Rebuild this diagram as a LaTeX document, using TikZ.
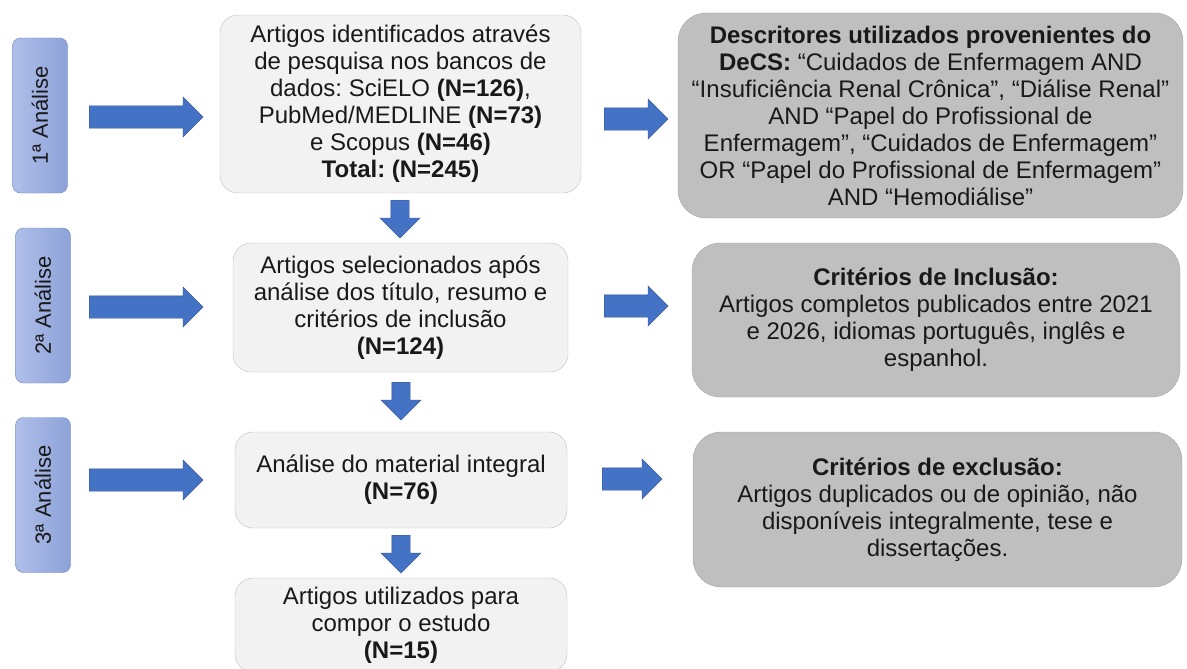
\documentclass[tikz,border=0pt]{standalone}
\usepackage{fontspec}
\setmainfont{Liberation Sans}
\usepackage{graphicx}
\usepackage{tikz}
\usetikzlibrary{shapes.arrows}
\frenchspacing
\definecolor{flowblue}{RGB}{68,114,196}
\definecolor{flowedge}{RGB}{47,82,143}
\definecolor{stagelight}{RGB}{176,191,233}
\definecolor{stagedark}{RGB}{141,162,217}
\definecolor{stageedge}{RGB}{110,134,198}
\definecolor{steplight}{RGB}{242,242,242}
\definecolor{stepedge}{RGB}{191,191,191}
\definecolor{notegray}{RGB}{191,191,191}
\definecolor{noteedge}{RGB}{166,166,166}

\begin{document}
\begin{tikzpicture}[x=1pt, y=-1pt,
    stage/.style={draw=stageedge, rounded corners=8pt, left color=stagelight, right color=stagedark, minimum width=55pt, minimum height=155pt, inner sep=0pt, text=black!90, font=\fontsize{22}{26}\selectfont},
    stepbox/.style={draw=stepedge, fill=steplight, rounded corners=18pt, align=center, inner sep=0pt, text=black!90, font=\fontsize{24}{27}\selectfont},
    notebox/.style={draw=noteedge, fill=notegray, rounded corners=28pt, align=center, inner sep=0pt, text=black!90, font=\fontsize{24}{27}\selectfont},
    rarrow/.style={single arrow, draw=flowedge, fill=flowblue, inner xsep=0pt, inner ysep=11pt, minimum width=0pt, single arrow head extend=9pt, anchor=tail},
    darrow/.style={rarrow, rotate=-90, inner ysep=9pt, single arrow head extend=11pt, minimum height=38pt}
]
\useasboundingbox (0,0) rectangle (1187,669);
\clip (0,0) rectangle (1187,669);

% Stage labels
\node[stage] (stage1) at (40,115.5) {\rotatebox{90}{1ª Análise}};
\node[stage] (stage2) at (43,305.5) {\rotatebox{90}{2ª Análise}};
\node[stage] (stage3) at (43,495) {\rotatebox{90}{3ª Análise}};

% Main steps
\node[stepbox, minimum width=361pt, minimum height=178pt] (step1) at (400.5,104) {Artigos identificados através\\de pesquisa nos bancos de\\dados: SciELO \textbf{(N=126)},\\PubMed/MEDLINE \textbf{(N=73)}\\e Scopus \textbf{(N=46)}\\\textbf{Total: (N=245)}};
\node[stepbox, minimum width=335pt, minimum height=129pt] (step2) at (400.5,307.5) {Artigos selecionados após\\análise dos título, resumo e\\critérios de inclusão\\\textbf{(N=124)}};
\node[stepbox, minimum width=332pt, minimum height=96pt] (step3) at (401,480) {Análise do material integral\\\textbf{(N=76)}};
\node[stepbox, minimum width=332pt, minimum height=94pt] (step4) at (401,625) {Artigos utilizados para\\compor o estudo\\\textbf{(N=15)}};

% Notes
\node[notebox, minimum width=505pt, minimum height=205pt] (note1) at (930.5,115.5) {\textbf{Descritores utilizados provenientes do}\\\textbf{DeCS:} “Cuidados de Enfermagem AND\\“Insuficiência Renal Crônica”, “Diálise Renal”\\AND “Papel do Profissional de\\Enfermagem”, “Cuidados de Enfermagem”\\OR “Papel do Profissional de Enfermagem”\\AND “Hemodiálise”};
\node[notebox, minimum width=488pt, minimum height=154pt] (note2) at (936,320) {\textbf{Critérios de Inclusão:}\\Artigos completos publicados entre 2021\\e 2026, idiomas português, inglês e\\espanhol.};
\node[notebox, minimum width=489pt, minimum height=155pt] (note3) at (937.5,509.5) {\textbf{Critérios de exclusão:}\\Artigos duplicados ou de opinião, não\\disponíveis integralmente, tese e\\dissertações.};

% Block arrows
\node[rarrow, minimum height=114pt] (go1) at (89,117) {};
\node[rarrow, minimum height=114pt] (go2) at (89,307) {};
\node[rarrow, minimum height=114pt] (go3) at (89,480) {};
\node[rarrow, minimum height=64pt] (see1) at (604,119) {};
\node[rarrow, minimum height=64pt] (see2) at (604,306) {};
\node[rarrow, minimum height=60pt] (see3) at (602,479) {};
\node[darrow] (down1) at (400,200) {};
\node[darrow] (down2) at (401,382) {};
\node[darrow] (down3) at (401,535) {};

\end{tikzpicture}
\end{document}
